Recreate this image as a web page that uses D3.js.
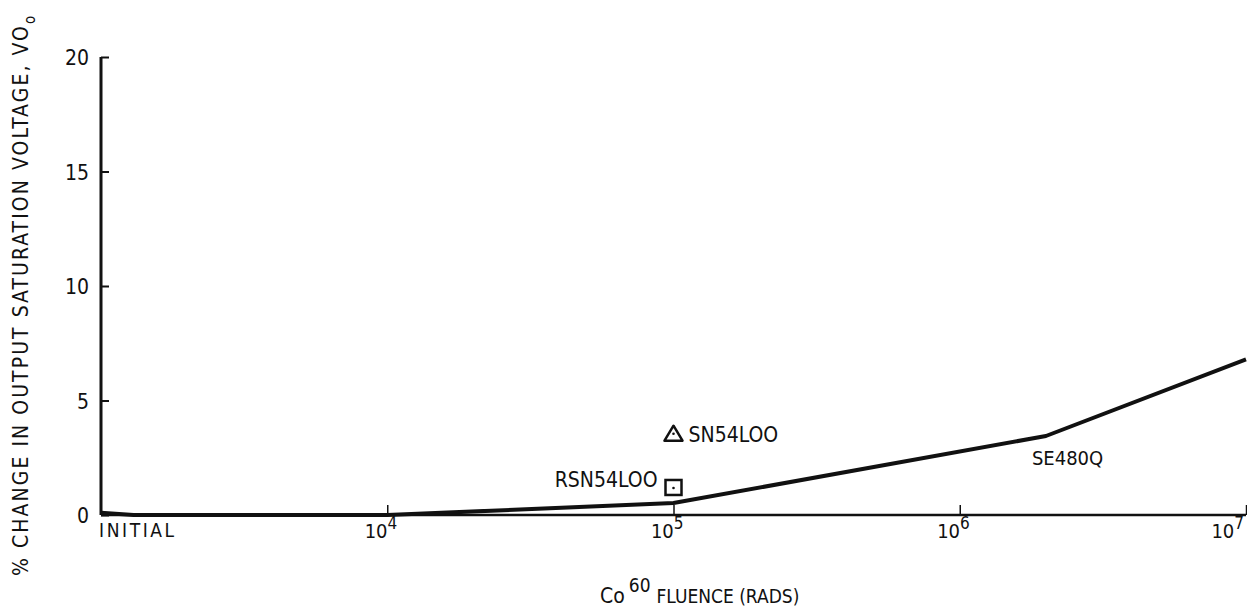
<!DOCTYPE html>
<html><head><meta charset="utf-8">
<script src="https://cdn.jsdelivr.net/npm/d3@7"></script>
<style>
body{margin:0;background:#fff;}
text{font-family:"Liberation Sans Narrow","DejaVu Sans Condensed","Arial Narrow",sans-serif;fill:#111;}
</style></head>
<body><svg id="c" width="1247" height="609"></svg>
<script>
// Data
const fluence = [1e3, 1.3e3, 1e4, 1e5, 2e6, 1e7];
const pctChange = [0.1, 0.0, 0.0, 0.52, 3.45, 6.8];
const markerNames = ["SN54LOO", "RSN54LOO"];
const markerFluence = [1e5, 1e5];
const markerValues = [3.55, 1.18];
const markerShapes = ["triangle", "square"];
const curveLabel = "SE480Q";
const curveLabelFluence = 2e6;
const yTicks = [0, 5, 10, 15, 20];
const xTickExps = [4, 5, 6, 7];

const svg = d3.select("#c");
const x = d3.scaleLog().domain([1e3, 1e7]).range([101, 1246]);
const y = d3.scaleLinear().domain([0, 20]).range([515, 57]);

// axes
const yAxis = d3.axisRight(y).tickValues(yTicks).tickSize(8).tickFormat("");
const gy = svg.append("g").attr("transform", `translate(${x.range()[0]},0)`).call(yAxis);
gy.select(".domain").attr("stroke", "#111").attr("stroke-width", 3).attr("d", `M0,${y(0)}V${y(20)}`);
gy.selectAll(".tick line").attr("stroke", "#111").attr("stroke-width", 2);

const xAxis = d3.axisTop(x).tickValues(xTickExps.map(e => Math.pow(10, e))).tickSize(10).tickFormat("");
const gx = svg.append("g").attr("transform", `translate(0,${y(0)})`).call(xAxis);
gx.select(".domain").attr("stroke", "#111").attr("stroke-width", 2.5).attr("d", `M${x.range()[0]},0H${x.range()[1]}`);
gx.selectAll(".tick line").attr("stroke", "#111").attr("stroke-width", 1.5);

// y tick labels
svg.selectAll(".ylab").data(yTicks).enter().append("text")
  .attr("x", 89).attr("y", d => y(d) + 8).attr("text-anchor", "end")
  .attr("font-size", 21).text(d => d);

// x tick labels
const xl = svg.selectAll(".xlab").data(xTickExps).enter().append("text")
  .attr("x", (d, i) => i === xTickExps.length - 1 ? x(Math.pow(10, d)) - 2 : x(Math.pow(10, d)) + 10)
  .attr("y", 538).attr("text-anchor", "end")
  .attr("font-size", 20);
xl.append("tspan").text("10");
xl.append("tspan").attr("dy", -9).attr("font-size", 17).text(d => d);
svg.append("text").attr("x", 99).attr("y", 537).attr("font-size", 19)
  .attr("letter-spacing", 2.6).text("INITIAL");

// axis titles
const xt = svg.append("text").attr("x", 600).attr("y", 603).attr("font-size", 21);
xt.append("tspan").text("Co");
xt.append("tspan").attr("dy", -11).attr("dx", 4).attr("font-size", 19).text("60");
xt.append("tspan").attr("dy", 11).attr("dx", 6).attr("font-size", 19).text("FLUENCE (RADS)");

const yt = svg.append("text").attr("transform", "translate(28,576) rotate(-90)").attr("font-size", 21);
yt.append("tspan").attr("textLength", 550).attr("lengthAdjust", "spacing")
  .text("% CHANGE IN OUTPUT SATURATION VOLTAGE,  VO");
yt.append("tspan").attr("dy", 7).attr("font-size", 15).text("o");

// curve
const line = d3.line().x((d, i) => x(fluence[i])).y(d => y(d));
svg.append("path").datum(pctChange).attr("d", line)
  .attr("fill", "none").attr("stroke", "#111").attr("stroke-width", 4).attr("stroke-linejoin", "round");

// markers
markerNames.forEach((n, i) => {
  const cx = x(markerFluence[i]), cy = y(markerValues[i]);
  if (markerShapes[i] === "triangle") {
    svg.append("path").attr("d", `M${cx},${cy-8}L${cx+9},${cy+7}L${cx-9},${cy+7}Z`)
      .attr("fill", "none").attr("stroke", "#111").attr("stroke-width", 2.5).attr("stroke-linejoin", "round");
    svg.append("text").attr("x", cx + 15).attr("y", cy + 8).attr("font-size", 21).text(n);
  } else {
    svg.append("rect").attr("x", cx - 8).attr("y", cy - 8).attr("width", 16).attr("height", 15)
      .attr("fill", "none").attr("stroke", "#111").attr("stroke-width", 2.5);
    svg.append("text").attr("x", cx - 16).attr("y", cy - 1).attr("text-anchor", "end").attr("font-size", 21).text(n);
  }
  svg.append("circle").attr("cx", cx).attr("cy", cy).attr("r", 1.3).attr("fill", "#111");
});

// curve label
svg.append("text").attr("x", x(curveLabelFluence) - 14).attr("y", y(pctChange[4]) + 29)
  .attr("font-size", 20).text(curveLabel);
</script></body></html>
